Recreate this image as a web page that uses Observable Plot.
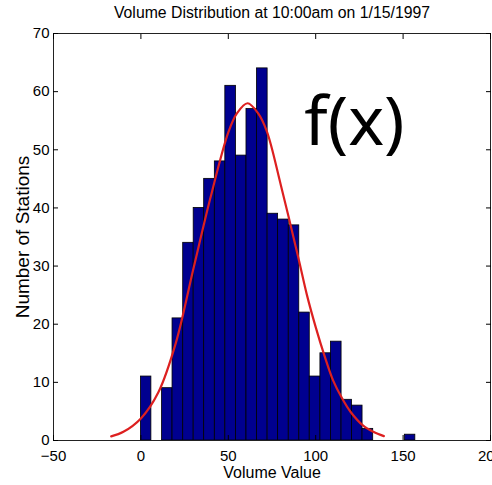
<!DOCTYPE html>
<html><head><meta charset="utf-8">
<script src="https://cdn.jsdelivr.net/npm/d3@7"></script>
<script src="https://cdn.jsdelivr.net/npm/@observablehq/plot@0.6"></script>
<style>body{margin:0;background:#fff} #chart{width:492px;height:485px}</style>
</head><body><div id="chart"></div>
<script>
// Histogram bin edges (Volume Value) and counts (Number of Stations)
const binEdges = [0, 6, 12.1, 18.1, 24.2, 30.2, 36.2, 42.3, 48.3, 54.4, 60.4, 66.4, 72.5, 78.5, 84.6, 90.6, 96.6, 102.7, 108.7, 114.8, 120.8, 126.8, 132.9, 138.9, 145, 151, 157];
const counts = [11, 0, 9, 21, 34, 40, 45, 48, 61, 49, 57, 64, 39, 38, 37, 22, 11, 15, 17, 7, 6, 2, 0, 0, 0, 1];
// Fitted curve f(x)
const curveX = [-17, -10, 0, 10, 20, 30, 40, 50, 55, 61, 67, 72, 80, 90, 95, 100, 105, 110, 115, 120, 127, 133, 139];
const curveY = [0.7, 1.5, 3.8, 8.3, 16.8, 29.5, 42, 53, 56.3, 58, 56.3, 53.2, 44, 31.5, 25, 19.5, 14.6, 10.3, 7.3, 4.9, 2.6, 1.5, 0.75];
const xTicks = [-50, 0, 50, 100, 150, 200];
const yTicks = [0, 10, 20, 30, 40, 50, 60, 70];
const titleText = "Volume Distribution at 10:00am on 1/15/1997";
const xLabel = "Volume Value";
const yLabel = "Number of Stations";
const annotation = [{label: "f(x)", x: 93.5, y: 50.9}];

const bars = counts.map((c, i) => ({x1: binEdges[i], x2: binEdges[i + 1], y: c})).filter(d => d.y > 0);
const curve = curveX.map((x, i) => ({x, y: curveY[i]}));

const chart = Plot.plot({
  width: 492, height: 485,
  marginLeft: 53, marginRight: 2, marginTop: 33, marginBottom: 45,
  x: {domain: [-50, 200]},
  y: {domain: [0, 70]},
  style: {fontFamily: "'Liberation Sans', Arial, sans-serif", fontSize: "15px", background: "white", color: "black"},
  marks: [
    Plot.rectY(bars, {x1: "x1", x2: "x2", y: "y", fill: "#00008f", stroke: "#000", strokeWidth: 0.8}),
    Plot.line(curve, {x: "x", y: "y", stroke: "#dd2020", strokeWidth: 2.2, curve: "catmull-rom"}),
    Plot.frame({stroke: "#222"}),
    Plot.axisX(xTicks, {anchor: "bottom", tickSize: -5, tickPadding: 15, label: null, fontSize: 15}),
    Plot.axisX(xTicks, {anchor: "top", tickSize: -5, tickFormat: () => "", label: null}),
    Plot.axisY(yTicks, {anchor: "left", tickSize: -5, tickPadding: 9, label: null, fontSize: 15}),
    Plot.axisY(yTicks, {anchor: "right", tickSize: -5, tickFormat: () => "", label: null}),
    Plot.text([titleText], {text: d => d, frameAnchor: "top", lineAnchor: "bottom", dy: -16, fontSize: 15.8}),
    Plot.text([xLabel], {text: d => d, frameAnchor: "bottom", lineAnchor: "bottom", dy: 37, fontSize: 16}),
    Plot.text([yLabel], {text: d => d, frameAnchor: "left", textAnchor: "middle", lineAnchor: "bottom", rotate: -90, dx: -24.5, dy: 0, fontSize: 19}),
    Plot.text(annotation, {x: "x", y: "y", text: "label", textAnchor: "start", lineAnchor: "bottom", fontSize: 68, fontFamily: "'Noto Sans', sans-serif", fill: "black"})
  ]
});
document.getElementById("chart").appendChild(chart);
</script>
</body></html>
